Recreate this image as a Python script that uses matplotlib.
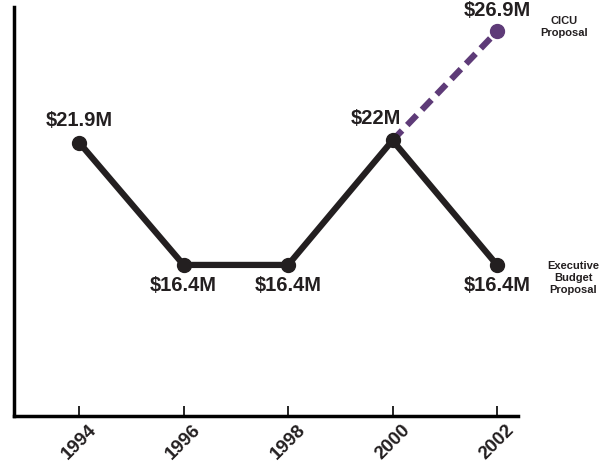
import matplotlib
matplotlib.use("Agg")
import matplotlib.pyplot as plt

years = [1994, 1996, 1998, 2000, 2002]
budget = [21.9, 16.4, 16.4, 22.0, 16.4]
labels = ["$21.9M", "$16.4M", "$16.4M", "$22M", "$16.4M"]

prop_years = [2000, 2002]
proposal = [22.0, 26.9]
prop_label = "$26.9M"

DARK = "#231f20"
PURPLE = "#5e3b78"

plt.rcParams["font.family"] = ["Liberation Sans", "DejaVu Sans"]

fig = plt.figure(figsize=(6.05, 4.66), dpi=100)
ax = fig.add_axes([0.023, 0.107, 0.833, 0.878])

ax.plot(prop_years, proposal, color=PURPLE, lw=4.5, ls=(0, (2.2, 1.2)),
        solid_capstyle="butt", zorder=2)
ax.plot(prop_years[-1], proposal[-1], "o", color=PURPLE, ms=10, zorder=3)
ax.plot(years, budget, color=DARK, lw=4.5, marker="o", ms=10, zorder=4,
        solid_capstyle="round", solid_joinstyle="round")

# value labels
offsets = [(0, 9, "bottom"), (0, -8, "top"), (0, -8, "top"),
           (-12, 9, "bottom"), (0, -8, "top")]
for x, y, s, (dx, dy, va) in zip(years, budget, labels, offsets):
    ax.annotate(s, (x, y), xytext=(dx, dy), textcoords="offset points",
                ha="center", va=va, fontsize=14.5, fontweight="bold", color=DARK)
ax.annotate(prop_label, (prop_years[-1], proposal[-1]), xytext=(0, 8),
            textcoords="offset points", ha="center", va="bottom",
            fontsize=14.5, fontweight="bold", color=DARK)

side = ["Liberation Sans Narrow", "Liberation Sans", "DejaVu Sans"]
ax.annotate("CICU\nProposal", (prop_years[-1], proposal[-1]), xytext=(48, 3),
            textcoords="offset points", ha="center", va="center",
            fontsize=8, fontweight="bold", family=side, color=DARK,
            annotation_clip=False, linespacing=1.25)
ax.annotate("Executive\nBudget\nProposal", (years[-1], budget[-1]),
            xytext=(55, -9.5), textcoords="offset points", ha="center",
            va="center", fontsize=8, fontweight="bold", family=side,
            color=DARK, annotation_clip=False, linespacing=1.25)

ax.set_xlim(1992.75, 2002.4)
ax.set_ylim(9.6, 28.0)
ax.set_xticks(years)
ax.set_xticklabels([str(y) for y in years], rotation=45, ha="center",
                   va="top", fontsize=13.5, fontweight="bold", color=DARK)
ax.set_yticks([])
ax.tick_params(axis="x", direction="in", length=7, width=1.2, pad=4)
for side_name in ["top", "right"]:
    ax.spines[side_name].set_visible(False)
for side_name in ["left", "bottom"]:
    ax.spines[side_name].set_linewidth(2.5)
    ax.spines[side_name].set_color("black")

fig.savefig("out.png", dpi=100)
